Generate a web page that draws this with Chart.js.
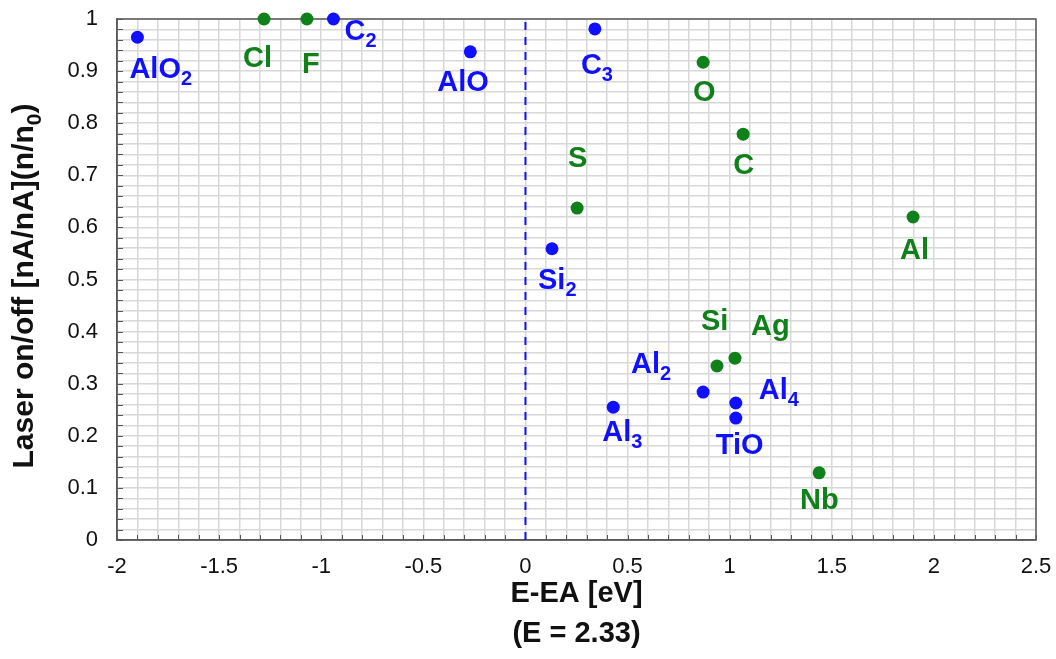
<!DOCTYPE html>
<html>

<head>
    <title>Laser on/off vs E-EA</title>
    <style type="text/css">
        body {
            margin: 0;
            background: #ffffff;
        }

        #chartBox {
            width: 1056px;
            height: 659px;
        }
    </style>
    <script src="https://cdn.jsdelivr.net/npm/chart.js@4.4.0/dist/chart.umd.min.js"></script>
</head>

<body>
    <div id="chartBox"><canvas id="scatterChart"></canvas></div>
    <script>
        // blue series (molecules / clusters)
        var blueNames = ['AlO_2', 'C_2', 'AlO', 'C_3', 'Si_2', 'Al_2', 'Al_3', 'Al_4', 'TiO'];
        var blueX = [-1.90, -0.94, -0.27, 0.34, 0.13, 0.87, 0.43, 1.03, 1.03];
        var blueY = [0.965, 1.0, 0.937, 0.981, 0.559, 0.284, 0.255, 0.263, 0.234];

        // green series (atoms)
        var greenNames = ['Cl', 'F', 'O', 'C', 'S', 'Al', 'Si', 'Ag', 'Nb'];
        var greenX = [-1.28, -1.07, 0.87, 1.066, 0.253, 1.898, 0.938, 1.026, 1.438];
        var greenY = [1.0, 1.0, 0.917, 0.779, 0.637, 0.620, 0.334, 0.349, 0.129];

        // dashed reference line at E-EA = 0
        var refLineX = [0, 0];
        var refLineY = [0, 1];

        var xTitle = ['E-EA [eV]', '(E = 2.33)'];
        var yTitle = 'Laser on/off [nA/nA](n/n_0)';

        var BLUE = '#1010ff';
        var GREEN = '#10801a';
        var FONT = '"Liberation Sans", Arial, Helvetica, sans-serif';

        // where each label sits relative to its dot (left edge, baseline)
        var labelOffsets = {
            'AlO_2': [-8, 41], 'C_2': [11, 21], 'AlO': [-33, 39], 'C_3': [-14, 45],
            'Si_2': [-14, 40], 'Al_2': [-72, -19], 'Al_3': [-11, 34], 'Al_4': [23, -4],
            'TiO': [-20, 36], 'Cl': [-21, 48], 'F': [-5, 54], 'O': [-10, 39],
            'C': [-10, 40], 'S': [-9, -41], 'Al': [-13, 42], 'Si': [-16, -36],
            'Ag': [16, -23], 'Nb': [-19, 36]
        };

        function toPoints(xs, ys) {
            return xs.map(function (x, i) { return { x: x, y: ys[i] }; });
        }

        // text with "_d" subscripts, drawn piece by piece
        function drawRich(ctx, text, x, y, align, size, color) {
            var parts = text.split(/(_\d)/).filter(function (p) { return p.length > 0; });
            var mainFont = 'bold ' + size + 'px ' + FONT;
            var subFont = 'bold ' + Math.round(size * 0.7) + 'px ' + FONT;
            var total = 0;
            parts.forEach(function (p) {
                ctx.font = p[0] === '_' ? subFont : mainFont;
                total += ctx.measureText(p[0] === '_' ? p.slice(1) : p).width;
            });
            var cx = align === 'center' ? x - total / 2 : x;
            ctx.fillStyle = color;
            ctx.textAlign = 'left';
            ctx.textBaseline = 'alphabetic';
            parts.forEach(function (p) {
                var isSub = p[0] === '_';
                var t = isSub ? p.slice(1) : p;
                ctx.font = isSub ? subFont : mainFont;
                ctx.fillText(t, cx, isSub ? y + Math.round(size * 0.25) : y);
                cx += ctx.measureText(t).width;
            });
        }

        var frameAndLabels = {
            id: 'frameAndLabels',
            beforeDatasetsDraw: function (chart) {
                var ctx = chart.ctx;
                var a = chart.chartArea;
                var xs = chart.scales.x;
                var ys = chart.scales.y;
                ctx.save();
                ctx.strokeStyle = '#555555';
                ctx.lineWidth = 1;
                // small inner tick marks
                ctx.beginPath();
                xs.ticks.forEach(function (t) {
                    var px = Math.round(xs.getPixelForValue(t.value)) + 0.5;
                    ctx.moveTo(px, a.bottom);
                    ctx.lineTo(px, a.bottom - 5);
                });
                ys.ticks.forEach(function (t) {
                    var py = Math.round(ys.getPixelForValue(t.value)) + 0.5;
                    ctx.moveTo(a.left, py);
                    ctx.lineTo(a.left + 6, py);
                });
                ctx.stroke();
                // frame
                ctx.lineWidth = 1.5;
                ctx.strokeStyle = '#5a5a5a';
                ctx.strokeRect(a.left, a.top, a.right - a.left, a.bottom - a.top);
                ctx.restore();
            },
            afterDatasetsDraw: function (chart) {
                var ctx = chart.ctx;
                ctx.save();
                chart.data.datasets.forEach(function (ds, di) {
                    if (!ds.names) return;
                    var meta = chart.getDatasetMeta(di);
                    meta.data.forEach(function (pt, i) {
                        var name = ds.names[i];
                        var off = labelOffsets[name] || [0, 30];
                        drawRich(ctx, name, pt.x + off[0], pt.y + off[1], 'left', 29, ds.backgroundColor);
                    });
                });
                // y axis title, rotated
                ctx.translate(33, 286);
                ctx.rotate(-Math.PI / 2);
                drawRich(ctx, yTitle, 0, 0, 'center', 30, '#111111');
                ctx.restore();
            }
        };

        function xTickLabel(value) {
            var v = Math.round(value * 10) / 10;
            return Math.abs(v * 2 - Math.round(v * 2)) < 1e-6 ? String(v) : '';
        }

        function yTickLabel(value) {
            var v = Math.round(value * 100) / 100;
            return Math.abs(v * 10 - Math.round(v * 10)) < 1e-6 ? String(Math.round(v * 10) / 10) : '';
        }

        var ctx = document.getElementById('scatterChart').getContext('2d');
        new Chart(ctx, {
            type: 'scatter',
            data: {
                datasets: [
                    {
                        label: 'E-EA = 0',
                        data: toPoints(refLineX, refLineY),
                        showLine: true,
                        borderColor: BLUE,
                        borderWidth: 2,
                        borderDash: [8, 7],
                        pointRadius: 0,
                        pointHoverRadius: 0
                    },
                    {
                        label: 'molecules',
                        names: blueNames,
                        data: toPoints(blueX, blueY),
                        backgroundColor: BLUE,
                        borderColor: BLUE,
                        borderWidth: 0,
                        pointRadius: 6.5,
                        pointHoverRadius: 6.5,
                        clip: false
                    },
                    {
                        label: 'atoms',
                        names: greenNames,
                        data: toPoints(greenX, greenY),
                        backgroundColor: GREEN,
                        borderColor: GREEN,
                        borderWidth: 0,
                        pointRadius: 6.5,
                        pointHoverRadius: 6.5,
                        clip: false
                    }
                ]
            },
            options: {
                responsive: true,
                maintainAspectRatio: false,
                animation: false,
                layout: {
                    padding: { top: 19, right: 20, bottom: 0, left: 0 }
                },
                plugins: {
                    legend: { display: false },
                    tooltip: { enabled: false }
                },
                scales: {
                    x: {
                        type: 'linear',
                        min: -2,
                        max: 2.5,
                        afterFit: function (s) {
                            s.height = 119;
                            s.paddingLeft = 0;
                            s.paddingRight = 0;
                        },
                        ticks: {
                            stepSize: 0.1,
                            autoSkip: false,
                            maxRotation: 0,
                            padding: 14,
                            color: '#111111',
                            font: { family: FONT, size: 22 },
                            callback: xTickLabel
                        },
                        grid: {
                            color: '#d8d8d8',
                            lineWidth: 1.5,
                            drawTicks: false
                        },
                        border: { color: '#5a5a5a', width: 1.5 },
                        title: {
                            display: true,
                            text: xTitle,
                            color: '#111111',
                            font: { family: FONT, size: 29, weight: 'bold', lineHeight: '40px' },
                            padding: { top: 0, bottom: 5 }
                        }
                    },
                    y: {
                        type: 'linear',
                        min: 0,
                        max: 1,
                        afterFit: function (s) {
                            s.width = 117;
                            s.paddingTop = 0;
                            s.paddingBottom = 0;
                        },
                        ticks: {
                            stepSize: 0.02,
                            autoSkip: false,
                            padding: 19,
                            color: '#111111',
                            font: { family: FONT, size: 22 },
                            callback: yTickLabel
                        },
                        grid: {
                            color: '#d8d8d8',
                            lineWidth: 1.5,
                            drawTicks: false
                        },
                        border: { color: '#5a5a5a', width: 1.5 }
                    }
                }
            },
            plugins: [frameAndLabels]
        });
    </script>
</body>

</html>
